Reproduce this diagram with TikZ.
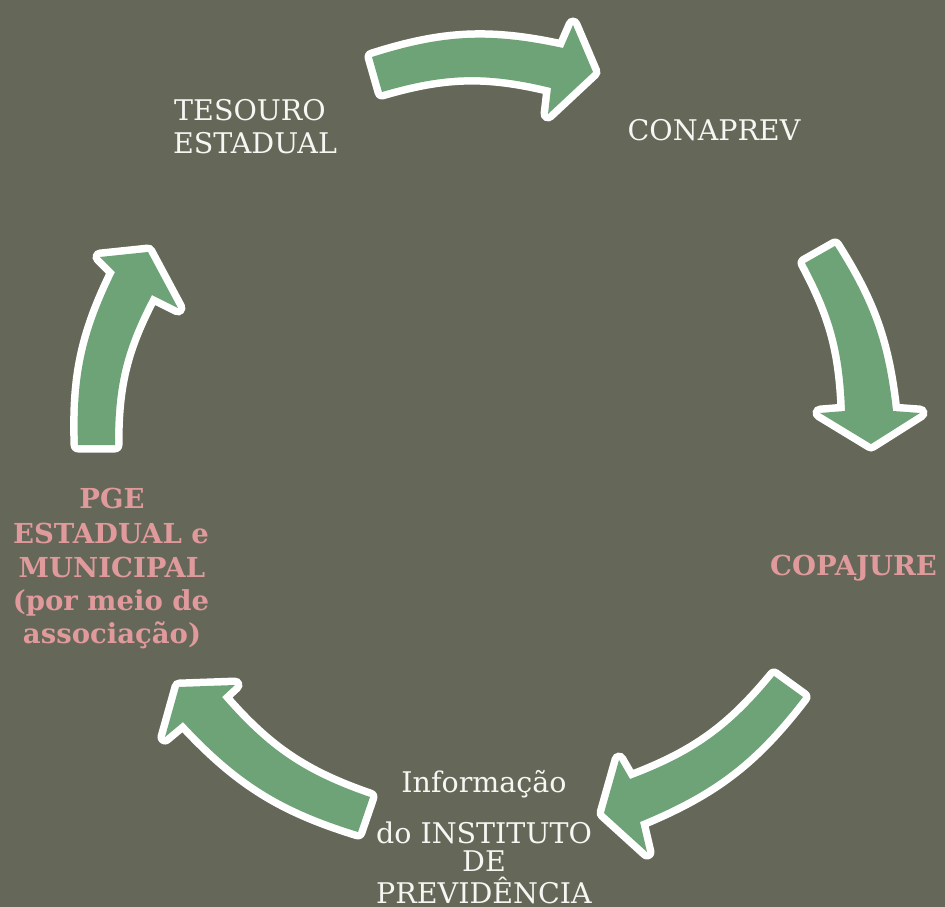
\documentclass[tikz,border=0pt]{standalone}
\usepackage{fontspec}
\setmainfont{DejaVu Serif}
\definecolor{bg}{HTML}{656759}
\definecolor{arrowgreen}{HTML}{6DA376}
\definecolor{labelpink}{HTML}{E09A9C}
\definecolor{txt}{HTML}{F6F6F2}
\tikzset{
  cyc/.style={fill=arrowgreen, preaction={draw=white, line width=15pt, line join=round}},
  lbl/.style={text=txt, font=\fontsize{28.5}{32}\selectfont, inner sep=0pt, anchor=base},
  lblb/.style={text=labelpink, font=\bfseries\fontsize{27.5}{30}\selectfont, inner sep=0pt, anchor=base}
}
\begin{document}
\begin{tikzpicture}[x=1pt,y=-1pt]
\fill[bg] (0,0) rectangle (945,907);
\useasboundingbox (0,0) rectangle (945,907);

% arrow 1: top (TESOURO -> CONAPREV)
\coordinate (a1to) at (372,57);  \coordinate (a1ti) at (382,92);
\coordinate (a1no) at (563,48);  \coordinate (a1wo) at (573,25);
\coordinate (a1tip) at (593,72);
\coordinate (a1wi) at (548,114); \coordinate (a1ni) at (551,88);
\path[cyc] (a1to) to[bend left=15] (a1no) -- (a1wo) -- (a1tip) -- (a1wi) -- (a1ni) to[bend right=15] (a1ti) -- cycle;

% arrow 2: right (CONAPREV -> COPAJURE)
\coordinate (a2to) at (835,246); \coordinate (a2ti) at (805,263);
\coordinate (a2no) at (893,411); \coordinate (a2wo) at (920,413);
\coordinate (a2tip) at (871,444);
\coordinate (a2wi) at (820,413); \coordinate (a2ni) at (845,411);
\path[cyc] (a2to) to[bend left=13] (a2no) -- (a2wo) -- (a2tip) -- (a2wi) -- (a2ni) to[bend right=13] (a2ti) -- cycle;

% arrow 3: bottom right (COPAJURE -> INSTITUTO)
\coordinate (a3to) at (803,697); \coordinate (a3ti) at (774,676);
\coordinate (a3no) at (640,822); \coordinate (a3wo) at (647,852);
\coordinate (a3tip) at (604,813);
\coordinate (a3wi) at (619,760); \coordinate (a3ni) at (630,779);
\path[cyc] (a3to) to[bend left=15] (a3no) -- (a3wo) -- (a3tip) -- (a3wi) -- (a3ni) to[bend right=15] (a3ti) -- cycle;

% arrow 4: bottom left (INSTITUTO -> PGE)
\coordinate (a4to) at (358,832); \coordinate (a4ti) at (370,797);
\coordinate (a4no) at (183,722); \coordinate (a4wo) at (165,737);
\coordinate (a4tip) at (179,687);
\coordinate (a4wi) at (235,685); \coordinate (a4ni) at (222,697);
\path[cyc] (a4to) to[bend left=15] (a4no) -- (a4wo) -- (a4tip) -- (a4wi) -- (a4ni) to[bend right=15] (a4ti) -- cycle;

% arrow 5: left (PGE -> TESOURO)
\coordinate (a5to) at (78,445);  \coordinate (a5ti) at (115,445);
\coordinate (a5no) at (115,272); \coordinate (a5wo) at (100,257);
\coordinate (a5tip) at (148,252);
\coordinate (a5wi) at (178,308); \coordinate (a5ni) at (152,295);
\path[cyc] (a5to) to[bend left=14] (a5no) -- (a5wo) -- (a5tip) -- (a5wi) -- (a5ni) to[bend right=14] (a5ti) -- cycle;

% labels
\node[lbl] (tes1) at (250,121) {TESOURO};
\node[lbl] (tes2) at (255,153) {ESTADUAL};
\node[lbl] (conaprev) at (714,140) {CONAPREV};
\node[lblb, anchor=base west] (copajure) at (770,575) {COPAJURE};
\node[lbl] (inf1) at (484,792) {Informação};
\node[lbl] (inf2) at (484,843) {do INSTITUTO};
\node[lbl] (inf3) at (484,871) {DE};
\node[lbl] (inf4) at (484,903) {PREVIDÊNCIA};
\node[lblb] (pge1) at (112,508) {PGE};
\node[lblb] (pge2) at (111,543) {ESTADUAL e};
\node[lblb] (pge3) at (112,577) {MUNICIPAL};
\node[lblb] (pge4) at (111,610) {(por meio de};
\node[lblb] (pge5) at (112,643) {associação)};
\end{tikzpicture}
\end{document}
